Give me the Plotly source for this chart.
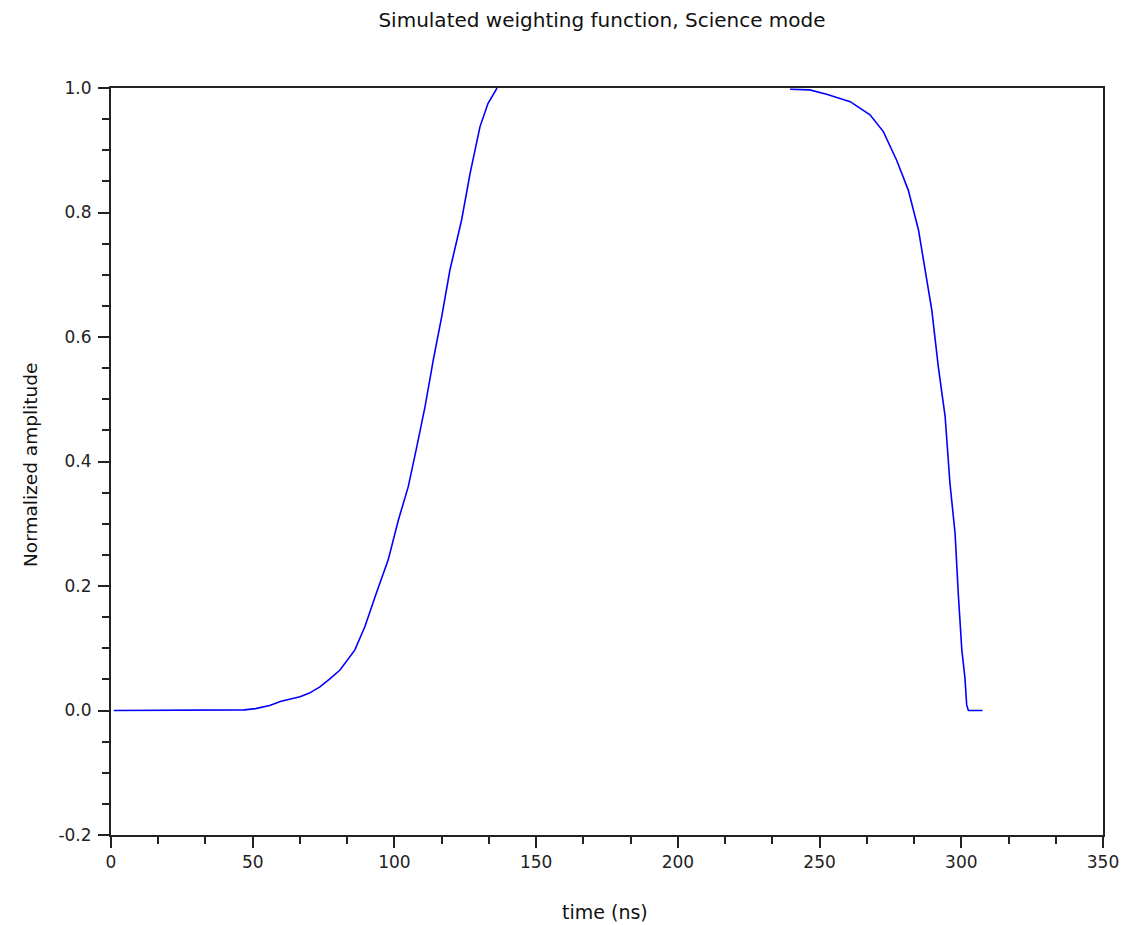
import plotly.graph_objects as go

# time (ns); None marks the stretch hidden under the top frame line
t = [1, 10, 20, 30, 43, 47, 51, 56, 60, 66.7, 70, 73.7, 77, 80.8, 86, 89.6,
     93.2, 97.8, 101.4, 104.9, 107.9, 110.8, 113.7, 116.7, 119.6, 123.7,
     126.7, 130.2, 133, 136.2, None, 239.6, 246.5, 252.5,
     260.8, 267.8, 272.5, 277.2, 281.3, 284.9, 287.2, 289.6, 291.9, 294.3,
     296, 297.8, 299, 300.2, 301.3, 301.9, 302.5, 307.5]
# normalized amplitude
amp = [0, 0, 0, 0, 0.0005, 0.001, 0.003, 0.008, 0.015, 0.022, 0.028, 0.038, 0.05,
       0.065, 0.097, 0.135, 0.183, 0.242, 0.306, 0.36, 0.424, 0.488, 0.563,
       0.633, 0.708, 0.788, 0.863, 0.938, 0.975, 1.0, None,
       0.998, 0.997, 0.99, 0.978, 0.957, 0.930, 0.884, 0.836, 0.772, 0.708,
       0.643, 0.552, 0.472, 0.365, 0.285, 0.183, 0.097, 0.052, 0.009, 0.0, 0.0]

x_ticks = [0, 50, 100, 150, 200, 250, 300, 350]
y_ticks = [-0.2, 0.0, 0.2, 0.4, 0.6, 0.8, 1.0]
y_tick_text = ["-0.2", "0.0", "0.2", "0.4", "0.6", "0.8", "1.0"]
x_minor = [i * 50 / 3 for i in range(22)]
y_minor = [round(-0.2 + 0.05 * i, 2) for i in range(25)]

FONT = "DejaVu Sans"
AX = "#222222"

fig = go.Figure()
fig.add_trace(go.Scatter(x=t, y=amp, mode="lines", connectgaps=False,
                         line=dict(color="#0000FF", width=1.6),
                         showlegend=False))

axis_common = dict(showgrid=False, zeroline=False, showline=True,
                   linecolor=AX, linewidth=2, mirror=True,
                   ticks="outside", ticklen=11, tickwidth=1.5, tickcolor=AX,
                   tickfont=dict(family=FONT, size=17, color="#222"))

fig.update_xaxes(range=[0, 350], tickmode="array", tickvals=x_ticks,
                 ticktext=[str(v) for v in x_ticks],
                 minor=dict(tickmode="array", tickvals=x_minor, ticks="outside",
                            ticklen=7, tickwidth=1.5, tickcolor=AX),
                 **axis_common)
fig.update_yaxes(range=[-0.2, 1.0], tickmode="array", tickvals=y_ticks,
                 ticktext=y_tick_text,
                 minor=dict(tickmode="array", tickvals=y_minor, ticks="outside",
                            ticklen=7, tickwidth=1.5, tickcolor=AX),
                 ticklabelstandoff=3,
                 **axis_common)

fig.update_layout(
    width=1138, height=925,
    margin=dict(l=111, r=35, t=88, b=90),
    paper_bgcolor="white", plot_bgcolor="white",
    title=dict(text="Simulated weighting function, Science mode",
               x=0.529, xanchor="center", y=1 - 20 / 925, yanchor="middle",
               yref="container",
               font=dict(family=FONT, size=20, color="#111")),
    annotations=[
        dict(text="time (ns)", xref="paper", yref="paper",
             x=0.498, y=-(912 - 835) / 747, xanchor="center", yanchor="middle",
             showarrow=False, font=dict(family=FONT, size=19, color="#111")),
        dict(text="Normalized amplitude", xref="paper", yref="paper",
             x=-(111 - 30) / 992, y=(835 - 465) / 747, xanchor="center",
             yanchor="middle", textangle=-90, showarrow=False,
             font=dict(family=FONT, size=18.5, color="#111")),
    ],
)

fig.write_html("out.html")
